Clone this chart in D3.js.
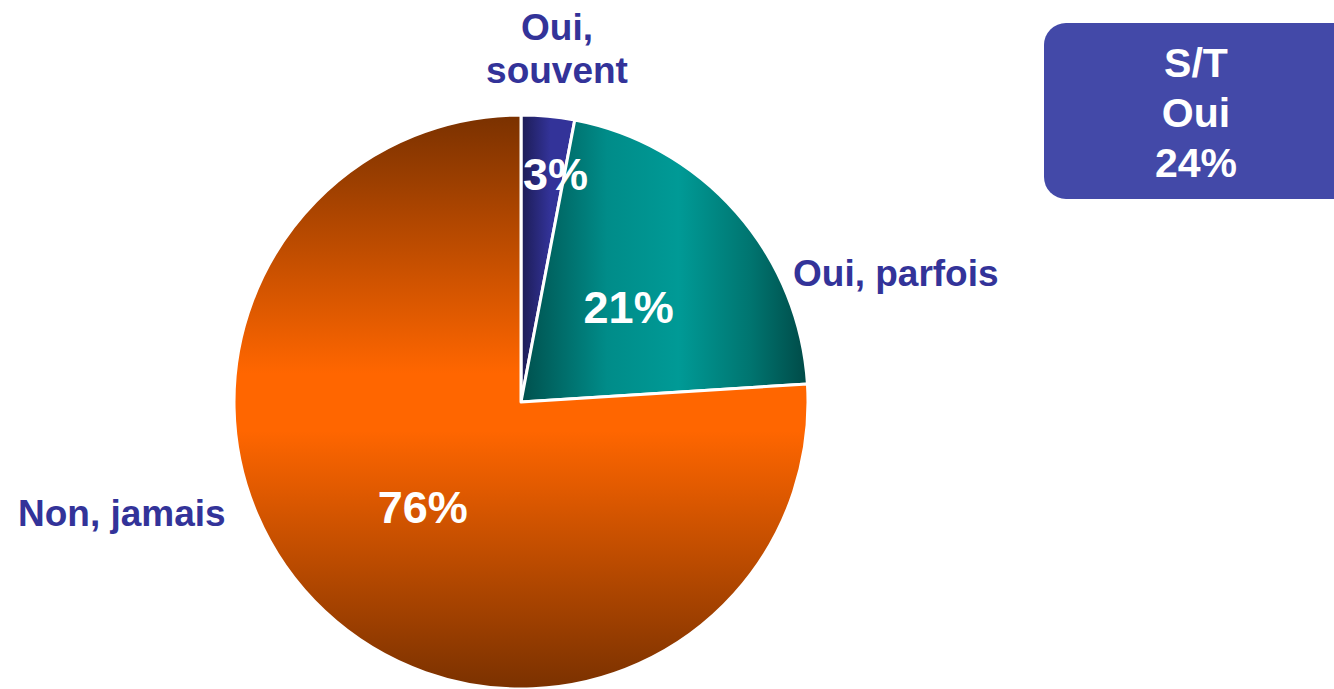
<!DOCTYPE html>
<html>
<head>
<meta charset="utf-8">
<script src="https://cdn.jsdelivr.net/npm/d3@7"></script>
<style>
  body { margin: 0; background: #fff; }
  svg { display: block; font-family: "Liberation Sans", Arial, sans-serif; font-weight: bold; }
</style>
</head>
<body>
<div id="chart1"></div>
<script>
// DATA
const categories = ["Oui, souvent", "Oui, parfois", "Non, jamais"];
const values = [3, 21, 76];
const valueLabels = ["3%", "21%", "76%"];
const totalLines = ["S/T", "Oui", "24%"];

const W = 1334, H = 689;
const cx = 521, cy = 402, R = 287;

const svg = d3.select("#chart1").append("svg")
  .attr("width", W).attr("height", H);

const defs = svg.append("defs");

// gradients per slice
const g0 = defs.append("linearGradient").attr("id", "grad0")
  .attr("x1", "0").attr("y1", "0").attr("x2", "1").attr("y2", "0");
g0.append("stop").attr("offset", "0%").attr("stop-color", "#1c1c55");
g0.append("stop").attr("offset", "55%").attr("stop-color", "#333399");
g0.append("stop").attr("offset", "100%").attr("stop-color", "#333399");

const g1 = defs.append("linearGradient").attr("id", "grad1")
  .attr("x1", "0").attr("y1", "0").attr("x2", "1").attr("y2", "0");
g1.append("stop").attr("offset", "0%").attr("stop-color", "#00504d");
g1.append("stop").attr("offset", "30%").attr("stop-color", "#008c89");
g1.append("stop").attr("offset", "55%").attr("stop-color", "#009a96");
g1.append("stop").attr("offset", "80%").attr("stop-color", "#007570");
g1.append("stop").attr("offset", "100%").attr("stop-color", "#004a47");

const g2 = defs.append("linearGradient").attr("id", "grad2")
  .attr("x1", "0").attr("y1", "0").attr("x2", "0").attr("y2", "1");
g2.append("stop").attr("offset", "0%").attr("stop-color", "#7a3100");
g2.append("stop").attr("offset", "45%").attr("stop-color", "#ff6600");
g2.append("stop").attr("offset", "55%").attr("stop-color", "#ff6600");
g2.append("stop").attr("offset", "100%").attr("stop-color", "#7a3100");

const pie = d3.pie().sort(null).value(d => d);
const arcs = pie(values);
const arc = d3.arc().innerRadius(0).outerRadius(R);

const pieG = svg.append("g").attr("transform", `translate(${cx},${cy})`);

pieG.selectAll("path.slice")
  .data(arcs)
  .enter().append("path")
  .attr("class", "slice")
  .attr("d", arc)
  .attr("fill", (d, i) => `url(#grad${i})`)
  .attr("stroke", "#fff")
  .attr("stroke-width", 3)
  .attr("stroke-linejoin", "round");

// percent labels
const labelR = [0.8 * R, 0.5 * R, 0.5 * R];
const labelDx = [13, 0, 0];
pieG.selectAll("text.pct")
  .data(arcs)
  .enter().append("text")
  .attr("class", "pct")
  .attr("x", (d, i) => Math.sin((d.startAngle + d.endAngle) / 2) * labelR[i] + labelDx[i])
  .attr("y", (d, i) => -Math.cos((d.startAngle + d.endAngle) / 2) * labelR[i])
  .attr("dy", "0.36em")
  .attr("text-anchor", "middle")
  .attr("fill", "#fff")
  .style("font-size", "45px")
  .text((d, i) => valueLabels[i]);

// category labels
const catColor = "#333399";
const souvent = categories[0].split(" ");
svg.append("text")
  .attr("x", 557).attr("y", 40)
  .attr("text-anchor", "middle")
  .attr("fill", catColor)
  .style("font-size", "37px")
  .selectAll("tspan")
  .data(souvent)
  .enter().append("tspan")
  .attr("x", 557)
  .attr("dy", (d, i) => i === 0 ? 0 : 43)
  .text(d => d);

svg.append("text")
  .attr("x", 793).attr("y", 286)
  .attr("fill", catColor)
  .style("font-size", "37px")
  .text(categories[1]);

svg.append("text")
  .attr("x", 18).attr("y", 526)
  .attr("fill", catColor)
  .style("font-size", "37px")
  .text(categories[2]);

// total box
svg.append("rect")
  .attr("x", 1044).attr("y", 23)
  .attr("width", 320).attr("height", 176)
  .attr("rx", 22).attr("ry", 22)
  .attr("fill", "#4349a8");

svg.append("text")
  .attr("text-anchor", "middle")
  .attr("fill", "#fff")
  .style("font-size", "41px")
  .selectAll("tspan")
  .data(totalLines)
  .enter().append("tspan")
  .attr("x", 1196)
  .attr("y", (d, i) => 77 + i * 50)
  .text(d => d);
</script>
</body>
</html>
